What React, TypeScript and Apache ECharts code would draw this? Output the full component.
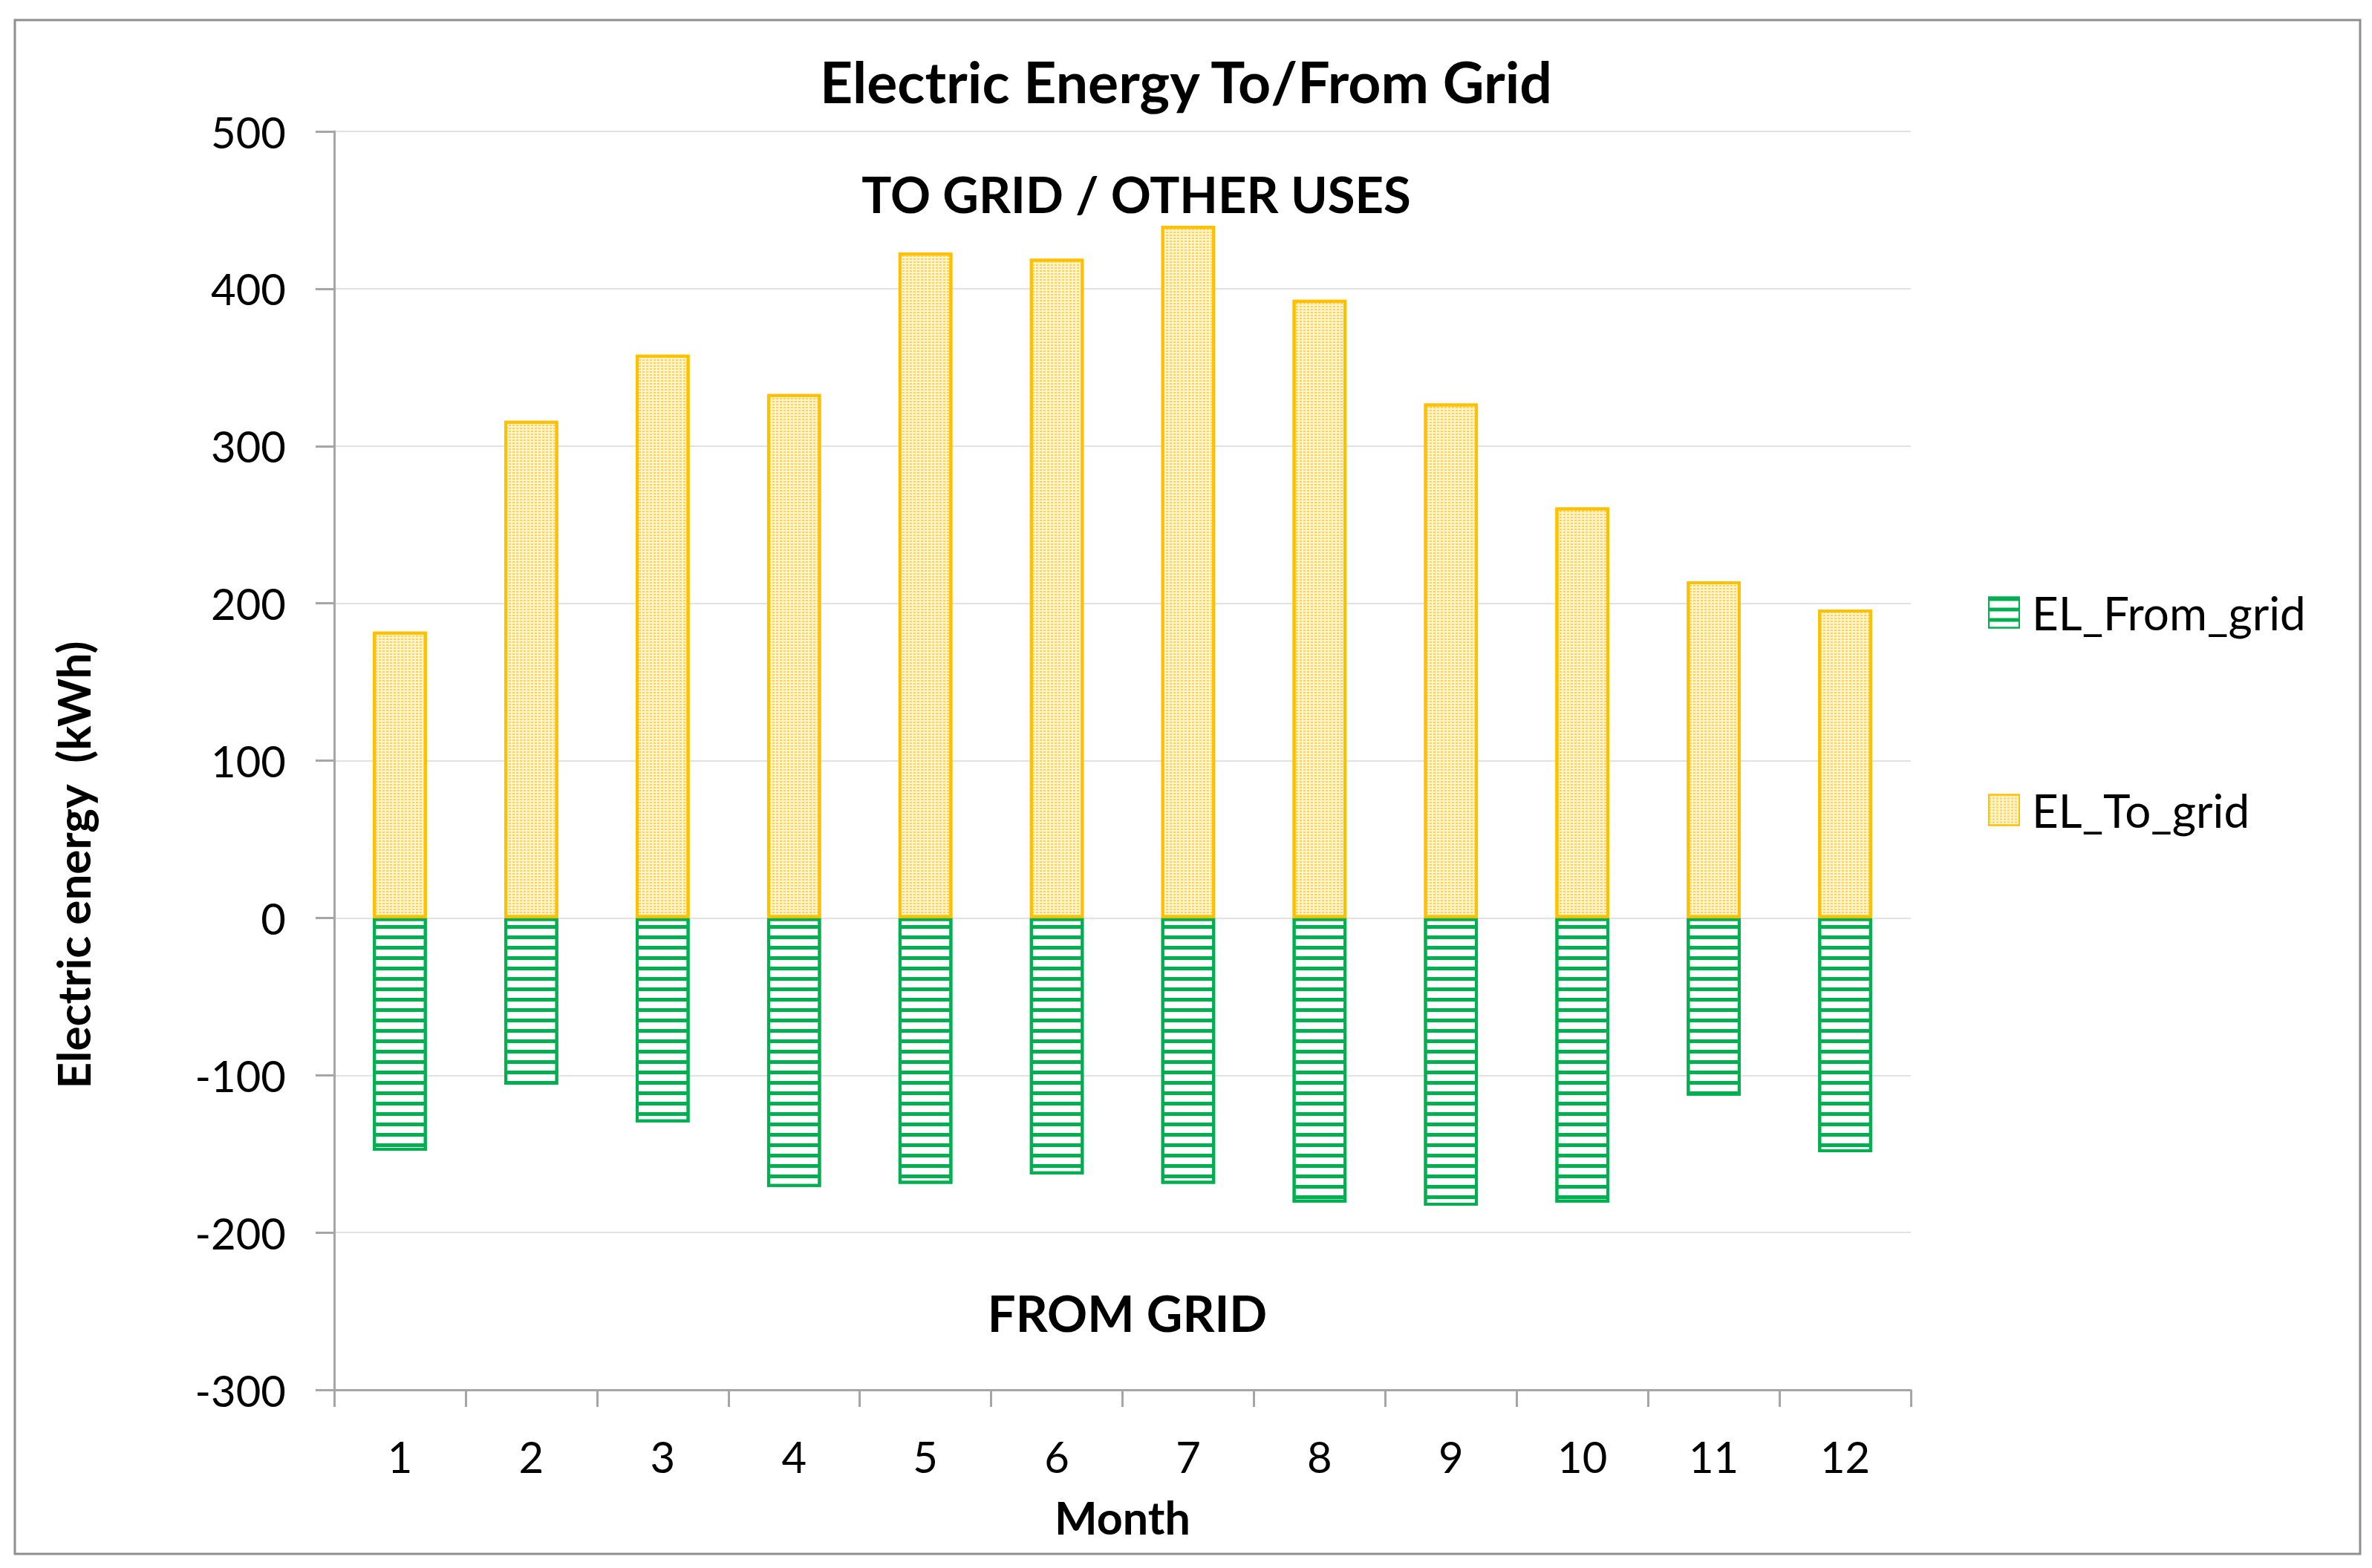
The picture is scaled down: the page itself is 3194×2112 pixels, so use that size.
import React, { useEffect, useRef } from "react";
import * as echarts from "echarts";

const months = ["1", "2", "3", "4", "5", "6", "7", "8", "9", "10", "11", "12"];
const seriesNames = ["EL_From_grid", "EL_To_grid"];
const fromGrid = [-148, -106, -130, -171, -169, -163, -169, -181, -183, -181, -113, -149];
const toGrid = [182, 316, 358, 333, 423, 419, 440, 393, 327, 261, 214, 196];
const yMin = -300;
const yMax = 500;
const yInterval = 100;

const FONT = "Lato";

export default function App() {
  const ref = useRef<HTMLDivElement>(null);
  useEffect(() => {
    if (!ref.current) return;
    const chart = echarts.init(ref.current, null, { renderer: "svg" });
    const axisGray = "#a6a6a6";
    chart.setOption({
      animation: false,
      backgroundColor: "#ffffff",
      title: {
        text: "Electric Energy To/From Grid",
        left: "center",
        top: 70,
        padding: 0,
        textStyle: { fontFamily: FONT, fontWeight: "bold", fontSize: 77, color: "#000" },
      },
      legend: {
        orient: "vertical",
        left: 2672,
        top: 789,
        itemWidth: 41,
        itemHeight: 41,
        itemGap: 204,
        icon: "rect",
        data: seriesNames,
        textStyle: { fontFamily: FONT, fontSize: 62, color: "#000", lineHeight: 62, padding: [0, 0, 0, 12] },
      },
      grid: { left: 450, right: 621, top: 177, bottom: 240, containLabel: false },
      xAxis: {
        type: "category",
        data: months,
        boundaryGap: true,
        name: "Month",
        nameLocation: "middle",
        nameGap: 141,
        nameTextStyle: { fontFamily: FONT, fontWeight: "bold", fontSize: 61, color: "#000" },
        axisLine: { show: true, onZero: false, lineStyle: { color: axisGray, width: 3 } },
        axisTick: { show: true, length: 23, alignWithLabel: false, lineStyle: { color: axisGray, width: 3 } },
        axisLabel: { fontFamily: FONT, fontSize: 58, color: "#000", margin: 60 },
        splitLine: { show: false },
      },
      yAxis: {
        type: "value",
        min: yMin,
        max: yMax,
        interval: yInterval,
        axisLine: { show: true, lineStyle: { color: axisGray, width: 3 } },
        axisTick: { show: true, length: 25, lineStyle: { color: axisGray, width: 3 } },
        axisLabel: { fontFamily: FONT, fontSize: 58, color: "#000", margin: 65 },
        splitLine: { show: true, lineStyle: { color: "#e2e2e2", width: 2 } },
      },
      series: [
        {
          name: seriesNames[0],
          type: "bar",
          data: fromGrid,
          barWidth: "41%",
          barGap: "-100%",
          itemStyle: {
            color: "#ffffff",
            borderColor: "#00B050",
            borderWidth: 4,
            decal: {
              symbol: "rect",
              symbolSize: 1,
              color: "#00B050",
              dashArrayX: [1, 0],
              dashArrayY: [4.5, 8.5],
              rotation: 0,
            },
          },
        },
        {
          name: seriesNames[1],
          type: "bar",
          data: toGrid,
          barWidth: "41%",
          barGap: "-100%",
          itemStyle: {
            color: "#FFF4D0",
            borderColor: "#FFC000",
            borderWidth: 4,
            decal: {
              symbol: "rect",
              symbolSize: 1,
              color: "#FFD34F",
              dashArrayX: [3, 2],
              dashArrayY: [2, 2],
              rotation: 0,
            },
          },
        },
      ],
      graphic: [
        {
          type: "rect",
          shape: { x: 20, y: 27, width: 3158, height: 2066 },
          style: { fill: "none", stroke: "#8f8f8f", lineWidth: 3 },
          silent: true,
          z: -1,
        },
        {
          type: "text",
          x: 98,
          y: 1165,
          rotation: Math.PI / 2,
          style: {
            text: "Electric energy  (kWh)",
            align: "center",
            verticalAlign: "middle",
            fontFamily: FONT,
            fontWeight: "bold",
            fontSize: 62,
            fill: "#000",
          },
        },
        {
          type: "text",
          x: 1530,
          y: 261,
          style: {
            text: "TO GRID / OTHER USES",
            align: "center",
            verticalAlign: "middle",
            fontFamily: FONT,
            fontWeight: "bold",
            fontSize: 67,
            fill: "#000",
          },
        },
        {
          type: "text",
          x: 1518,
          y: 1768,
          style: {
            text: "FROM GRID",
            align: "center",
            verticalAlign: "middle",
            fontFamily: FONT,
            fontWeight: "bold",
            fontSize: 67,
            fill: "#000",
          },
        },
      ],
    });
    return () => chart.dispose();
  }, []);
  return (
    <div
      ref={ref}
      style={{ position: "fixed", left: 0, top: 0, width: 3194, height: 2112, background: "#fff" }}
    />
  );
}
